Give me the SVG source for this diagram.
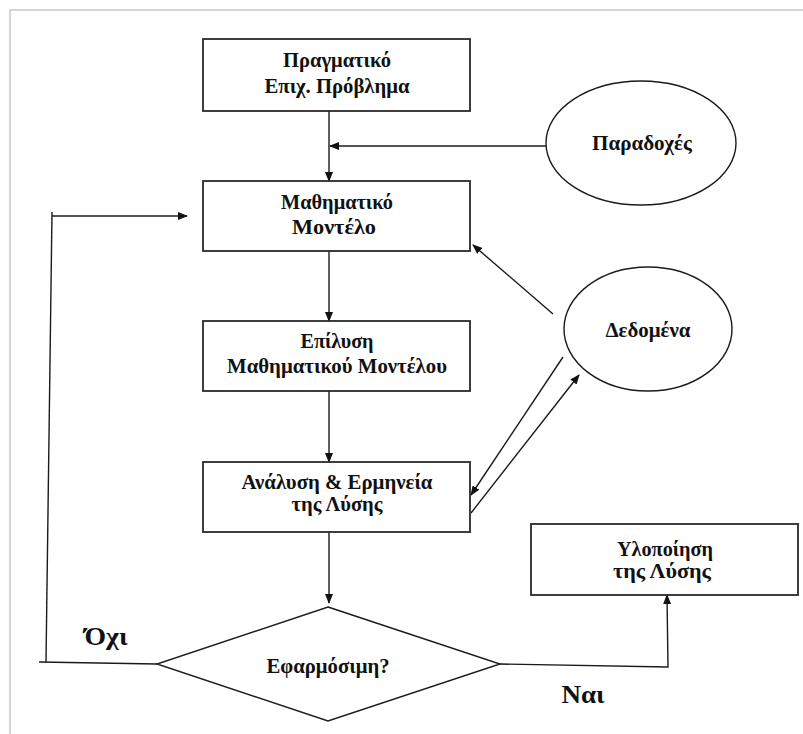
<svg xmlns="http://www.w3.org/2000/svg" width="803" height="734" viewBox="0 0 803 734">
  <defs>
    <marker id="arrow" markerWidth="10" markerHeight="8" refX="9" refY="4" orient="auto" markerUnits="userSpaceOnUse">
      <path d="M0,0 L10,4 L0,8 Z" fill="#111"/>
    </marker>
    <style>
      .frame { fill: none; stroke: #c8c8c8; stroke-width: 1.5; }
      .box { fill: #fff; stroke: #2a2a2a; stroke-width: 1.8; }
      .shape { fill: #fff; stroke: #1a1a1a; stroke-width: 1.4; }
      .conn { fill: none; stroke: #1a1a1a; stroke-width: 1.4; }
      .arr { marker-end: url(#arrow); }
      .lbl { font-family: "Liberation Serif", "DejaVu Serif", "Times New Roman", serif; font-weight: bold; font-size: 20px; fill: #111; text-anchor: middle; }
      .big { font-family: "Liberation Serif", "DejaVu Serif", "Times New Roman", serif; font-weight: bold; font-size: 26px; fill: #111; text-anchor: middle; }
    </style>
  </defs>
  <rect width="803" height="734" fill="#fff"/>
  <path class="frame" d="M10,734 L10,10 L803,10"/>

  <g id="connectors">
    <line class="conn arr" x1="329" y1="111" x2="329" y2="181"/>
    <line class="conn arr" x1="546" y1="146" x2="330" y2="146"/>
    <line class="conn arr" x1="329" y1="251" x2="329" y2="321"/>
    <line class="conn arr" x1="329" y1="391" x2="329" y2="462"/>
    <line class="conn arr" x1="329" y1="532" x2="329" y2="603"/>
    <line class="conn arr" x1="553" y1="314" x2="473" y2="245"/>
    <line class="conn arr" x1="563" y1="357" x2="471" y2="495"/>
    <line class="conn arr" x1="471" y1="513" x2="579" y2="375"/>
    <line class="conn" x1="157" y1="664" x2="39" y2="662"/>
    <line class="conn" x1="46" y1="662" x2="52" y2="212"/>
    <line class="conn arr" x1="52" y1="216" x2="187" y2="216"/>
    <polyline class="conn arr" points="500,664 668,667 667,595"/>
  </g>

  <g id="real-problem">
    <rect class="box" x="203" y="39" width="267" height="72"/>
    <text class="lbl" x="337" y="67" textLength="108" lengthAdjust="spacingAndGlyphs">Πραγματικό</text>
    <text class="lbl" x="337" y="93" textLength="145" lengthAdjust="spacingAndGlyphs">Επιχ. Πρόβλημα</text>
  </g>
  <g id="assumptions">
    <ellipse class="shape" cx="641" cy="143" rx="95" ry="62"/>
    <text class="lbl" x="642" y="150" textLength="100" lengthAdjust="spacingAndGlyphs">Παραδοχές</text>
  </g>
  <g id="math-model">
    <rect class="box" x="203" y="181" width="267" height="70"/>
    <text class="lbl" x="337" y="209" textLength="112" lengthAdjust="spacingAndGlyphs">Μαθηματικό</text>
    <text class="lbl" x="334" y="234" textLength="84" lengthAdjust="spacingAndGlyphs">Μοντέλο</text>
  </g>
  <g id="data">
    <ellipse class="shape" cx="648" cy="329" rx="84" ry="62"/>
    <text class="lbl" x="648" y="337" textLength="85" lengthAdjust="spacingAndGlyphs">Δεδομένα</text>
  </g>
  <g id="solve">
    <rect class="box" x="203" y="321" width="267" height="70"/>
    <text class="lbl" x="337" y="348" textLength="73" lengthAdjust="spacingAndGlyphs">Επίλυση</text>
    <text class="lbl" x="337" y="373" textLength="220" lengthAdjust="spacingAndGlyphs">Μαθηματικού Μοντέλου</text>
  </g>
  <g id="analysis">
    <rect class="box" x="203" y="462" width="267" height="70"/>
    <text class="lbl" x="337" y="489" textLength="191" lengthAdjust="spacingAndGlyphs">Ανάλυση &amp; Ερμηνεία</text>
    <text class="lbl" x="337" y="511" textLength="91" lengthAdjust="spacingAndGlyphs">της Λύσης</text>
  </g>
  <g id="implementation">
    <rect class="box" x="531" y="524" width="267" height="71"/>
    <text class="lbl" x="665" y="556" textLength="96" lengthAdjust="spacingAndGlyphs">Υλοποίηση</text>
    <text class="lbl" x="662" y="578" textLength="98" lengthAdjust="spacingAndGlyphs">της Λύσης</text>
  </g>
  <g id="decision">
    <polygon class="shape" points="328,607 500,664 328,721 157,664"/>
    <text class="lbl" x="328" y="673" textLength="123" lengthAdjust="spacingAndGlyphs">Εφαρμόσιμη?</text>
  </g>
  <g id="labels">
    <text class="big" x="106" y="645" textLength="43" lengthAdjust="spacingAndGlyphs">Όχι</text>
    <text class="big" x="583" y="703" textLength="43" lengthAdjust="spacingAndGlyphs">Ναι</text>
  </g>
</svg>
